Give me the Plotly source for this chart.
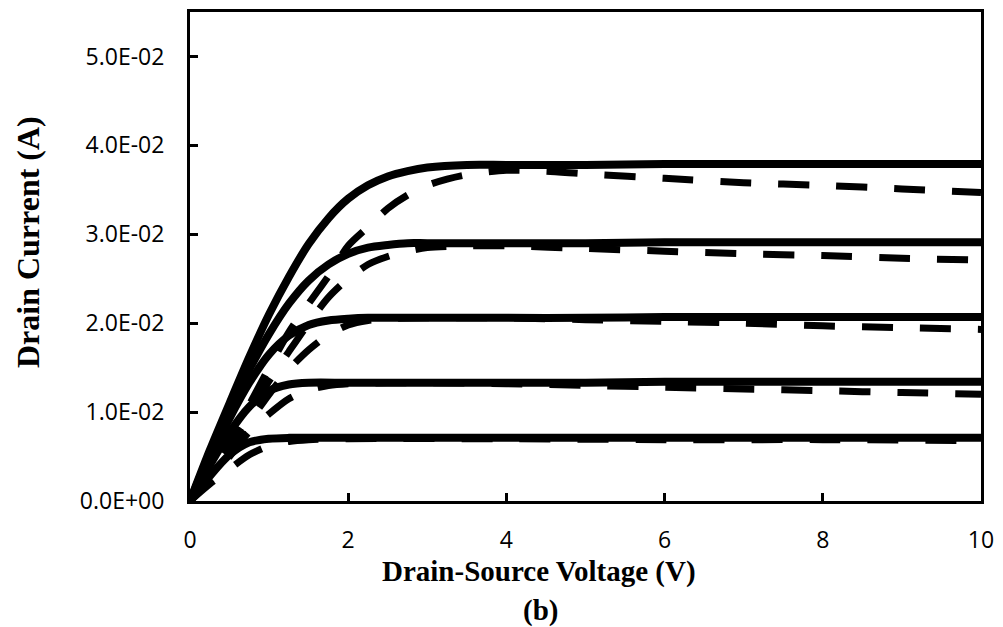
import plotly.graph_objects as go

# ---------------- data ----------------
# Solid curves (model)
vds_s1 = [0, 0.25, 0.5, 0.75, 1.0, 1.25, 1.5, 1.75, 2.0, 2.25, 2.5, 2.75, 3.0, 3.5, 4, 5, 6, 7, 8, 9, 10]
id_s1 = [0, 0.0057, 0.0110, 0.0162, 0.0210, 0.0252, 0.0289, 0.0318, 0.0340, 0.0355, 0.0365, 0.0371, 0.0375, 0.0378, 0.0378, 0.0378, 0.0379, 0.0379, 0.0379, 0.0379, 0.0379]

vds_s2 = [0, 0.25, 0.5, 0.75, 1.0, 1.25, 1.5, 1.75, 2.0, 2.25, 2.5, 2.75, 3.0, 4, 5, 6, 7, 8, 9, 10]
id_s2 = [0, 0.0053, 0.0103, 0.0148, 0.0188, 0.0222, 0.0248, 0.0266, 0.0278, 0.0285, 0.0288, 0.0290, 0.0290, 0.0290, 0.0290, 0.0291, 0.0291, 0.0291, 0.0291, 0.0291]

vds_s3 = [0, 0.25, 0.5, 0.75, 1.0, 1.25, 1.5, 1.75, 2.0, 2.25, 2.5, 3, 4, 5, 6, 7, 8, 9, 10]
id_s3 = [0, 0.0048, 0.0093, 0.0133, 0.0165, 0.0186, 0.0198, 0.0203, 0.0205, 0.0206, 0.0206, 0.0206, 0.0206, 0.0206, 0.0207, 0.0207, 0.0207, 0.0207, 0.0207]

vds_s4 = [0, 0.25, 0.5, 0.75, 1.0, 1.25, 1.5, 2, 3, 4, 5, 6, 7, 8, 9, 10]
id_s4 = [0, 0.0040, 0.0077, 0.0106, 0.0124, 0.0131, 0.0133, 0.0133, 0.0133, 0.0133, 0.0133, 0.0134, 0.0134, 0.0134, 0.0134, 0.0134]

vds_s5 = [0, 0.25, 0.5, 0.75, 1.0, 1.25, 1.5, 2, 3, 4, 5, 6, 7, 8, 9, 10]
id_s5 = [0, 0.0028, 0.0052, 0.0066, 0.0070, 0.0071, 0.0071, 0.0071, 0.0071, 0.0071, 0.0071, 0.0071, 0.0071, 0.0071, 0.0071, 0.0071]

# Dashed curves (measured)
vds_d1 = [0, 0.5, 1.0, 1.25, 1.5, 1.75, 2.0, 2.25, 2.5, 2.75, 3.0, 3.25, 3.5, 4, 4.5, 5, 6, 7, 8, 9, 10]
id_d1 = [0, 0.0068, 0.0150, 0.0190, 0.0222, 0.0253, 0.0287, 0.0308, 0.0329, 0.0344, 0.0355, 0.0362, 0.0367, 0.0372, 0.0371, 0.0368, 0.0363, 0.0358, 0.0355, 0.0351, 0.0347]

vds_d2 = [0, 0.5, 1.0, 1.25, 1.5, 1.75, 2.0, 2.25, 2.5, 2.75, 3.0, 3.5, 4, 5, 6, 7, 8, 9, 10]
id_d2 = [0, 0.0062, 0.0135, 0.0168, 0.0200, 0.0229, 0.0250, 0.0266, 0.0275, 0.0281, 0.0285, 0.0287, 0.0287, 0.0284, 0.0281, 0.0278, 0.0276, 0.0273, 0.0271]

vds_d3 = [0, 0.5, 1.0, 1.25, 1.5, 1.75, 2.0, 2.25, 2.5, 3.0, 4, 5, 6, 7, 8, 9, 10]
id_d3 = [0, 0.0058, 0.0120, 0.0148, 0.0170, 0.0187, 0.0198, 0.0203, 0.0205, 0.0206, 0.0206, 0.0204, 0.0202, 0.0200, 0.0197, 0.0195, 0.0193]

vds_d4 = [0, 0.25, 0.5, 0.75, 1.0, 1.25, 1.5, 1.75, 2.0, 2.5, 3, 4, 5, 6, 7, 8, 9, 10]
id_d4 = [0, 0.0022, 0.0050, 0.0078, 0.0098, 0.0115, 0.0125, 0.0130, 0.0132, 0.0133, 0.0133, 0.0132, 0.0130, 0.0128, 0.0126, 0.0124, 0.0122, 0.0120]

vds_d5 = [0, 0.25, 0.5, 0.75, 1.0, 1.25, 1.5, 2, 4, 6, 8, 10]
id_d5 = [0, 0.0019, 0.0036, 0.0052, 0.0062, 0.0067, 0.0069, 0.0070, 0.0070, 0.0069, 0.0069, 0.0068]

x_tick_vals = [0, 2, 4, 6, 8, 10]
x_tick_text = ["0", "2", "4", "6", "8", "10"]
y_tick_vals = [0, 0.01, 0.02, 0.03, 0.04, 0.05]
y_tick_text = ["0.0E+00", "1.0E-02", "2.0E-02", "3.0E-02", "4.0E-02", "5.0E-02"]

x_title = "Drain-Source Voltage (V)"
y_title = "Drain Current (A)"
sub_label = "(b)"

# ---------------- figure ----------------
fig = go.Figure()

dashed = [(vds_d1, id_d1), (vds_d2, id_d2), (vds_d3, id_d3), (vds_d4, id_d4), (vds_d5, id_d5)]
solid = [(vds_s1, id_s1), (vds_s2, id_s2), (vds_s3, id_s3), (vds_s4, id_s4), (vds_s5, id_s5)]

for xv, yv in dashed:
    fig.add_trace(go.Scatter(x=xv, y=yv, mode="lines",
                             line=dict(color="black", width=7, dash="31px,27px",
                                       shape="spline", smoothing=0.8),
                             hoverinfo="skip"))
for xv, yv in solid:
    fig.add_trace(go.Scatter(x=xv, y=yv, mode="lines",
                             line=dict(color="black", width=8,
                                       shape="spline", smoothing=0.8),
                             hoverinfo="skip"))

tick_font = dict(family="Open Sans, Liberation Sans, sans-serif", size=23, color="black")
title_font = dict(family="Liberation Serif, Times New Roman, serif", size=29, color="black")
ytitle_font = dict(family="Liberation Serif, Times New Roman, serif", size=32, color="black")

fig.update_layout(
    width=1003, height=627,
    margin=dict(l=190, r=20, t=9, b=126),
    paper_bgcolor="white", plot_bgcolor="white",
    showlegend=False,
    xaxis=dict(range=[0, 10], tickvals=x_tick_vals, ticktext=x_tick_text,
               ticks="inside", ticklen=8, tickwidth=2.5, tickcolor="black",
               showline=True, linecolor="black", linewidth=3, mirror=True,
               showgrid=False, zeroline=False, tickfont=tick_font,
               ticklabelstandoff=16),
    yaxis=dict(range=[0, 0.055], tickvals=y_tick_vals, ticktext=y_tick_text,
               ticks="inside", ticklen=8, tickwidth=2.5, tickcolor="black",
               showline=True, linecolor="black", linewidth=3, mirror=True,
               showgrid=False, zeroline=False, tickfont=tick_font,
               ticklabelstandoff=18),
    annotations=[
        dict(text="<b>" + x_title + "</b>", xref="paper", yref="paper",
             x=0.4414, y=-0.144, xanchor="center", yanchor="middle",
             showarrow=False, font=title_font),
        dict(text="<b>" + sub_label + "</b>", xref="paper", yref="paper",
             x=0.4426, y=-0.2236, xanchor="center", yanchor="middle",
             showarrow=False, font=title_font),
        dict(text="<b>" + y_title + "</b>", xref="paper", yref="paper",
             x=-0.2055, y=0.5305, xanchor="center", yanchor="middle",
             textangle=-90, showarrow=False, font=ytitle_font),
    ],
)

fig.write_html("out.html")
